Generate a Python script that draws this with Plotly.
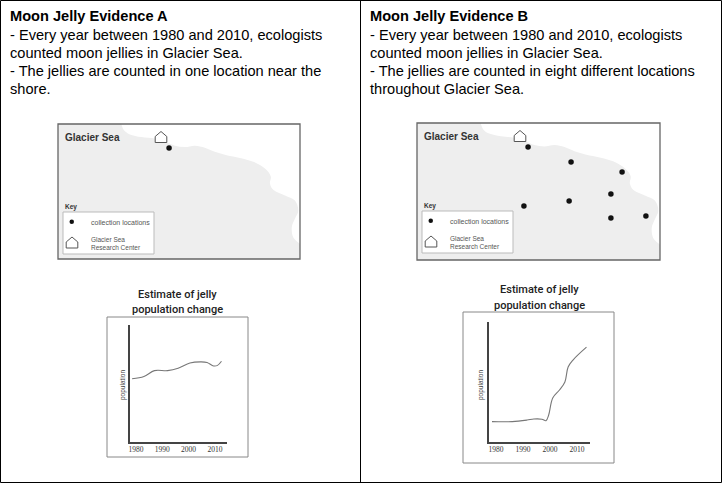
import plotly.graph_objects as go

W, H = 722, 483

# ---------------- data ----------------
years_a = [1978.5, 1983, 1987, 1992, 1996, 2000.5, 2004.5, 2007, 2009.5, 2011, 2012.5]
pop_a = [54, 56, 61, 61, 63, 67.5, 68.5, 68, 65, 65.5, 69]

years_b = [1978.5, 1986, 1991.5, 1994, 1997, 1998.5, 1999.5, 2001, 2003.5, 2005.5, 2006.7, 2008.5, 2013.5]
pop_b = [17, 17, 18.3, 19.2, 19, 17.8, 22.5, 36.7, 43.3, 50, 62.5, 68.3, 79]

tick_years = [1980, 1990, 2000, 2010]
tick_labels = ["1980", "1990", "2000", "2010"]

# collection locations (map units: 0-100 across, 0-100 down)
sites_a_x = [45.9]
sites_a_y = [17.8]
sites_b_x = [45.7, 63.4, 84.4, 79.8, 62.6, 44.0, 79.8, 94.2]
sites_b_y = [17.5, 28.5, 35.8, 51.8, 56.9, 60.6, 69.3, 67.9]

# coastline of Glacier Sea (map units)
coast_u = [26.2, 27.2, 29.7, 34.5, 40.0, 44.1, 48.3, 52.4, 56.6, 60.7, 64.8, 69.7, 75.2,
           80.7, 85.5, 87.9, 87.6, 89.2, 93.8, 97.9, 99.3, 97.9, 96.6, 97.2, 100.0]
coast_v = [0.0, 4.5, 7.7, 9.7, 10.7, 13.2, 16.1, 17.1, 16.1, 17.6, 20.6, 23.1, 25.1,
           28.0, 33.0, 38.7, 44.2, 49.1, 52.9, 56.6, 64.0, 70.2, 76.4, 83.9, 88.8]

text_a = ["Moon Jelly Evidence A",
          "- Every year between 1980 and 2010, ecologists",
          "counted moon jellies in Glacier Sea.",
          "- The jellies are counted in one location near the",
          "shore."]
text_b = ["Moon Jelly Evidence B",
          "- Every year between 1980 and 2010, ecologists",
          "counted moon jellies in Glacier Sea.",
          "- The jellies are counted in eight different locations",
          "throughout Glacier Sea."]

chart_title = ["Estimate of jelly", "population change"]
y_title = "population"
map_title = "Glacier Sea"
key_title = "Key"
key_dot_label = "collection locations"
key_house_label = ["Glacier Sea", "Research Center"]

# ---------------- helpers ----------------
def dx(a, b):
    return [a / W, b / W]

def dy(top, bottom):
    return [1 - bottom / H, 1 - top / H]

def smooth_path(us, vs):
    pts = list(zip(us, vs))
    n = len(pts)
    d = "M %.2f %.2f" % pts[0]
    for i in range(n - 1):
        p0 = pts[i - 1] if i > 0 else pts[i]
        p1 = pts[i]
        p2 = pts[i + 1]
        p3 = pts[i + 2] if i + 2 < n else pts[i + 1]
        c1 = (p1[0] + (p2[0] - p0[0]) / 6, p1[1] + (p2[1] - p0[1]) / 6)
        c2 = (p2[0] - (p3[0] - p1[0]) / 6, p2[1] - (p3[1] - p1[1]) / 6)
        d += " C %.2f %.2f %.2f %.2f %.2f %.2f" % (c1[0], c1[1], c2[0], c2[1], p2[0], p2[1])
    return d

def house_path(cx, cy, w=11.5, h=11):
    hw, hh = w / 2, h / 2
    return ("M %.1f %.1f L %.1f %.1f L %.1f %.1f L %.1f %.1f L %.1f %.1f Z" %
            (cx - hw, cy + hh, cx + hw, cy + hh, cx + hw, cy - 0.5,
             cx, cy - hh, cx - hw, cy - 0.5))

fig = go.Figure()
shapes = []
annotations = []

SANS = "Liberation Sans, Arial, sans-serif"
SERIF = "Liberation Serif, DejaVu Serif, serif"

# canvas axis (pixel units)
layout_axes = dict(
    xaxis=dict(domain=[0, 1], range=[0, W], visible=False, fixedrange=True),
    yaxis=dict(domain=[0, 1], range=[H, 0], visible=False, fixedrange=True),
)

# panel borders
shapes.append(dict(type="rect", xref="x", yref="y", x0=0.5, y0=0.5, x1=W - 0.5, y1=H - 0.5,
                   line=dict(color="#000", width=1)))
shapes.append(dict(type="line", xref="x", yref="y", x0=360.5, y0=0, x1=360.5, y1=H,
                   line=dict(color="#000", width=1)))

# text blocks
line_y = [16, 34.5, 52.8, 71, 89.3]
for lines, x0 in ((text_a, 8), (text_b, 368)):
    for i, t in enumerate(lines):
        annotations.append(dict(
            xref="x", yref="y", x=x0, y=line_y[i], xanchor="left", yanchor="middle",
            text=("<b>%s</b>" % t) if i == 0 else t, showarrow=False,
            font=dict(family=SANS, size=14.6, color="#000")))

# ---------------- maps ----------------
maps = [
    dict(box=(58, 124, 300, 259), sx=sites_a_x, sy=sites_a_y, ax="2"),
    dict(box=(417, 123, 660, 260), sx=sites_b_x, sy=sites_b_y, ax="3"),
]
land = smooth_path(coast_u, coast_v) + " L 100 0 Z"
for m in maps:
    x0, y0, x1, y1 = m["box"]
    a = m["ax"]
    layout_axes["xaxis" + a] = dict(domain=dx(x0, x1), range=[0, 100], visible=False,
                                    anchor="y" + a, fixedrange=True)
    layout_axes["yaxis" + a] = dict(domain=dy(y0, y1), range=[100, 0], visible=False,
                                    anchor="x" + a, fixedrange=True)
    xr, yr = "x" + a, "y" + a
    shapes.append(dict(type="rect", xref=xr, yref=yr, x0=0, y0=0, x1=100, y1=100,
                       fillcolor="#eeeeee", line=dict(width=0), layer="below"))
    shapes.append(dict(type="path", xref=xr, yref=yr, path=land, fillcolor="#ffffff",
                       line=dict(width=0), layer="below"))
    shapes.append(dict(type="rect", xref="x", yref="y", x0=x0, y0=y0, x1=x1, y1=y1,
                       line=dict(color="#666", width=1.3)))
    fig.add_trace(go.Scatter(x=m["sx"], y=m["sy"], mode="markers", xaxis=xr, yaxis=yr,
                             marker=dict(color="#111", size=5.5), hoverinfo="skip",
                             showlegend=False))
    # map label + research center
    annotations.append(dict(xref="x", yref="y", x=x0 + 5, y=y0 + 13, xanchor="left",
                            yanchor="middle", text="<b>%s</b>" % map_title, showarrow=False,
                            font=dict(family=SANS, size=10, color="#333")))
    shapes.append(dict(type="path", xref="x", yref="y", path=house_path(x0 + 103, y0 + 13),
                       line=dict(color="#555", width=1), fillcolor="#ffffff"))
    # key
    annotations.append(dict(xref="x", yref="y", x=x0 + 5, y=y0 + 83, xanchor="left",
                            yanchor="middle", text="<b>%s</b>" % key_title, showarrow=False,
                            font=dict(family=SANS, size=6.5, color="#333")))
    shapes.append(dict(type="rect", xref="x", yref="y", x0=x0 + 5, y0=y0 + 88,
                       x1=x0 + 96, y1=y0 + 130, fillcolor="#ffffff",
                       line=dict(color="#bbb", width=1)))
    shapes.append(dict(type="circle", xref="x", yref="y", x0=x0 + 11.5, y0=y0 + 95.5,
                       x1=x0 + 16, y1=y0 + 100, fillcolor="#111", line=dict(width=0)))
    annotations.append(dict(xref="x", yref="y", x=x0 + 31, y=y0 + 98, xanchor="left",
                            yanchor="middle", text=key_dot_label, showarrow=False,
                            font=dict(family=SANS, size=7, color="#555")))
    shapes.append(dict(type="path", xref="x", yref="y", path=house_path(x0 + 14, y0 + 118.5),
                       line=dict(color="#555", width=1), fillcolor="#ffffff"))
    annotations.append(dict(xref="x", yref="y", x=x0 + 31, y=y0 + 115.5, xanchor="left",
                            yanchor="middle", text=key_house_label[0], showarrow=False,
                            font=dict(family=SANS, size=6.5, color="#555")))
    annotations.append(dict(xref="x", yref="y", x=x0 + 31, y=y0 + 123.5, xanchor="left",
                            yanchor="middle", text=key_house_label[1], showarrow=False,
                            font=dict(family=SANS, size=6.5, color="#555")))

# ---------------- line charts ----------------
charts = [
    dict(box=(107, 317, 248, 457), axx=(130, 227), axy=(325, 442), xr=[1977.7, 2014.6],
         yrs=years_a, pop=pop_a, ax="4", title_x=177, title_y=(294, 309), ytx=123, yty=385),
    dict(box=(463, 312, 614, 463), axx=(489, 590), axy=(322, 442), xr=[1977.4, 2014.8],
         yrs=years_b, pop=pop_b, ax="5", title_x=539, title_y=(289, 305), ytx=481, yty=385),
]
for c in charts:
    a = c["ax"]
    bx0, by0, bx1, by1 = c["box"]
    shapes.append(dict(type="rect", xref="x", yref="y", x0=bx0, y0=by0, x1=bx1, y1=by1,
                       line=dict(color="#888", width=1)))
    layout_axes["xaxis" + a] = dict(
        domain=dx(*c["axx"]), range=c["xr"], anchor="y" + a, showline=True,
        linecolor="#444", linewidth=1.5, showgrid=False, zeroline=False, ticks="",
        tickvals=tick_years, ticktext=tick_labels, fixedrange=True, ticklabelstandoff=-1,
        tickfont=dict(family=SERIF, size=7.5, color="#333"))
    layout_axes["yaxis" + a] = dict(
        domain=dy(*c["axy"]), range=[0, 100], anchor="x" + a, showline=True,
        linecolor="#444", linewidth=1.5, showgrid=False, zeroline=False,
        showticklabels=False, ticks="", fixedrange=True)
    fig.add_trace(go.Scatter(x=c["yrs"], y=c["pop"], mode="lines", xaxis="x" + a,
                             yaxis="y" + a, line=dict(color="#777", width=1.1,
                                                      shape="spline", smoothing=1),
                             hoverinfo="skip", showlegend=False))
    for t, ty in zip(chart_title, c["title_y"]):
        annotations.append(dict(xref="x", yref="y", x=c["title_x"], y=ty, xanchor="center",
                                yanchor="middle", text=t, showarrow=False,
                                font=dict(family="Roboto, " + SANS, size=11, color="#222",
                                          weight=500)))
    annotations.append(dict(xref="x", yref="y", x=c["ytx"], y=c["yty"], xanchor="center",
                            yanchor="middle", text=y_title, showarrow=False, textangle=-90,
                            font=dict(family=SANS, size=6.5, color="#444")))

fig.update_layout(
    width=W, height=H, margin=dict(l=0, r=0, t=0, b=0),
    paper_bgcolor="#ffffff", plot_bgcolor="rgba(0,0,0,0)",
    shapes=shapes, annotations=annotations, showlegend=False,
    **layout_axes)

fig.write_html("out.html", config=dict(displayModeBar=False),
               post_script="document.body.style.margin='0';document.body.style.padding='0';")
